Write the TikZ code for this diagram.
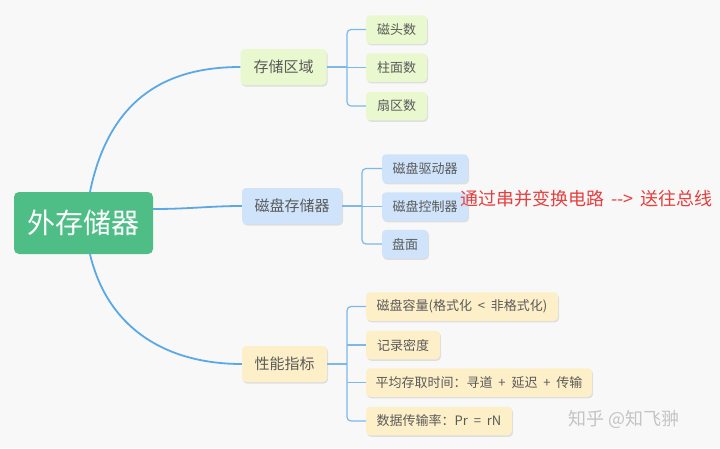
\documentclass[tikz,border=0pt]{standalone}
\usepackage{fontspec}
\setmainfont{Noto Sans CJK SC}
\usetikzlibrary{shadows,calc}
\definecolor{bgc}{HTML}{F8F8F8}
\definecolor{rootgreen}{HTML}{4EBE86}
\definecolor{lgreen}{HTML}{E9F8CF}
\definecolor{lblue}{HTML}{CFE4FA}
\definecolor{lyellow}{HTML}{FDEFC8}
\definecolor{txtgray}{HTML}{5A5A5A}
\definecolor{mainblue}{HTML}{5AA9E6}
\definecolor{brblue}{HTML}{7DB8E8}
\definecolor{notered}{HTML}{E5403F}
\definecolor{wmgray}{HTML}{C4C4C4}
\begin{document}
\begin{tikzpicture}[x=1pt,y=-1pt,
  boxshadow/.style={drop shadow={shadow xshift=1pt,shadow yshift=-1.5pt,fill=black,opacity=0.10}},
  rootbox/.style={fill=rootgreen,rounded corners=5pt,text=white,inner sep=0pt,
    minimum width=139pt,minimum height=62pt,font=\fontsize{28}{30}\selectfont},
  lonebox/.style={rounded corners=4pt,text=txtgray,inner sep=0pt,boxshadow,
    minimum height=36pt,font=\fontsize{15}{17}\selectfont},
  ltwobox/.style={rounded corners=4pt,text=txtgray,inner sep=0pt,boxshadow,
    minimum height=28.5pt,font=\fontsize{13}{15}\selectfont},
  mainline/.style={draw=mainblue,line width=1.8pt},
  brline/.style={draw=brblue,line width=1.2pt,rounded corners=4pt}]
\useasboundingbox[fill=bgc] (0,0) rectangle (720,448);

% root
\node[rootbox] (root) at (83.5,223) {外存储器};

% level 1
\node[lonebox,fill=lgreen,minimum width=86pt] (a) at (283.5,67) {存储区域};
\node[lonebox,fill=lblue,minimum width=100pt] (b) at (292,206) {磁盘存储器};
\node[lonebox,fill=lyellow,minimum width=85pt] (c) at (284.5,364) {性能指标};

% level 2 - a
\node[ltwobox,fill=lgreen,minimum width=61pt] (a1) at (396.5,29.5) {磁头数};
\node[ltwobox,fill=lgreen,minimum width=61pt] (a2) at (396.5,67.5) {柱面数};
\node[ltwobox,fill=lgreen,minimum width=61pt] (a3) at (396.5,106) {扇区数};

% level 2 - b
\node[ltwobox,fill=lblue,minimum width=86pt] (b1) at (425,168.5) {磁盘驱动器};
\node[ltwobox,fill=lblue,minimum width=86pt] (b2) at (425,206.5) {磁盘控制器};
\node[ltwobox,fill=lblue,minimum width=46pt] (b3) at (405,244) {盘面};

% level 2 - c
\node[ltwobox,fill=lyellow,minimum width=192pt] (c1) at (462,306.5) {磁盘容量(格式化\ \ <\ \ 非格式化)};
\node[ltwobox,fill=lyellow,minimum width=74pt] (c2) at (403,345) {记录密度};
\node[ltwobox,fill=lyellow,minimum width=226pt] (c3) at (479,382.5) {平均存取时间：寻道\ \ +\ \ 延迟\ \ +\ \ 传输};
\node[ltwobox,fill=lyellow,minimum width=146pt] (c4) at (439,421) {数据传输率：Pr\ \ =\ \ rN};

% main connectors
\draw[mainline] ([xshift=6.5pt]root.north) .. controls (110,95) and (170,67) .. (a.west);
\draw[mainline] ([yshift=14pt]root.east) .. controls (190,209) and (210,206) .. (b.west);
\draw[mainline] ([xshift=6.5pt]root.south) .. controls (108,330) and (168,364) .. (c.west);

% brackets
\coordinate (bxa) at (347,0);
\coordinate (bxb) at (362,0);
\coordinate (bxc) at (347,0);

\draw[brline] (a.east) -- (a.east -| bxa);
\draw[brline] (a1.west) -- (a1.west -| bxa) -- (a3.west -| bxa) -- (a3.west);
\draw[brline] (a2.west) -- (a2.west -| bxa);

\draw[brline] (b.east) -- (b.east -| bxb);
\draw[brline] (b1.west) -- (b1.west -| bxb) -- (b3.west -| bxb) -- (b3.west);
\draw[brline] (b2.west) -- (b2.west -| bxb);

\draw[brline] (c.east) -- (c.east -| bxc);
\draw[brline] (c1.west) -- (c1.west -| bxc) -- (c4.west -| bxc) -- (c4.west);
\draw[brline] (c2.west) -- (c2.west -| bxc);
\draw[brline] (c3.west) -- (c3.west -| bxc);

% note
\node[anchor=west,text=notered,inner sep=0pt,font=\fontsize{18}{20}\selectfont] (note) at (460,199) {通过串并变换电路\ \,-{}-{}>\ \,送往总线};

% watermark
\node[anchor=west,text=wmgray,inner sep=0pt,font=\fontsize{18}{20}\selectfont] (wm) at (568,419) {知乎 @知飞翀};
\end{tikzpicture}
\end{document}
